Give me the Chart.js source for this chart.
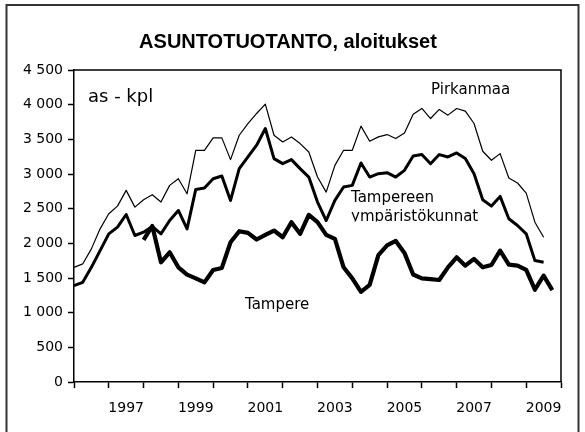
<!DOCTYPE html>
<html>
<head>
<meta charset="utf-8">
<script src="https://cdn.jsdelivr.net/npm/chart.js@4"></script>
<style>
  html, body { margin: 0; padding: 0; background: #fff; }
  #wrap { width: 585px; height: 432px; }
</style>
</head>
<body>
<div id="wrap"><canvas id="chart" width="585" height="432"></canvas></div>
<script>
// quarterly series, 1996 Q1 onwards
const years = [1996, 1997, 1998, 1999, 2000, 2001, 2002, 2003, 2004, 2005, 2006, 2007, 2008, 2009, 2010];
const yTicks = [0, 500, 1000, 1500, 2000, 2500, 3000, 3500, 4000, 4500];

const pirkanmaa = [
    1654, 1703, 1920, 2209, 2426, 2537, 2764, 2522, 2628, 2701,
    2595, 2836, 2932, 2715, 3342, 3342, 3521, 3521, 3207, 3559,
    3728, 3873, 4008, 3559, 3463, 3535, 3439, 3318, 2956, 2739,
    3125, 3342, 3342, 3690, 3473, 3535, 3569, 3511, 3593, 3863,
    3945, 3800, 3931, 3849, 3945, 3907, 3728, 3328, 3198, 3294,
    2942, 2870, 2725, 2305, 2088, null, null
];
const ymparisto = [
    1389, 1437, 1654, 1895, 2137, 2233, 2416, 2113, 2161, 2243,
    2137, 2329, 2474, 2209, 2778, 2797, 2932, 2971, 2619, 3077,
    3246, 3415, 3656, 3222, 3149, 3207, 3077, 2956, 2595, 2329,
    2619, 2812, 2836, 3159, 2956, 3005, 3019, 2956, 3053, 3260,
    3280, 3149, 3280, 3246, 3304, 3222, 3005, 2628, 2537, 2677,
    2354, 2257, 2137, 1751, 1727, null, null
];
const tampere = [
    null, null, null, null, null, null, null, null, 2050, 2250,
    1727, 1871, 1654, 1548, 1495, 1437, 1616, 1645, 2016, 2175,
    2151, 2055, 2122, 2185, 2088, 2305, 2137, 2411, 2305, 2122,
    2064, 1654, 1495, 1300, 1400, 1830, 1970, 2035, 1862, 1550,
    1495, 1485, 1471, 1654, 1799, 1678, 1775, 1654, 1688, 1895,
    1693, 1678, 1616, 1331, 1534, 1326, null
];

const quarters = [];
for (const y of years) {
    for (let q = 1; q <= 4; q++) quarters.push(y + ' Q' + q);
}
quarters.length = pirkanmaa.length;

const font = 'DejaVu Sans';

const decor = {
    id: 'decor',
    beforeDraw(chart) {
        const c = chart.ctx;
        c.save();
        c.fillStyle = '#fff';
        c.fillRect(0, 0, chart.width, chart.height);
        c.strokeStyle = '#333';
        c.lineWidth = 2;
        c.strokeRect(6.5, 5, 572, 460);
        c.restore();
    },
    afterDraw(chart) {
        const c = chart.ctx;
        const a = chart.chartArea;
        c.save();
        // box round the plot area
        c.strokeStyle = '#000';
        c.lineWidth = 1.5;
        c.beginPath();
        c.moveTo(a.left, a.top);
        c.lineTo(a.right, a.top);
        c.lineTo(a.right, a.bottom);
        c.stroke();

        c.fillStyle = '#000';
        c.textAlign = 'center';
        c.textBaseline = 'alphabetic';
        c.font = 'bold 20px "Liberation Sans", Arial';
        c.fillText('ASUNTOTUOTANTO, aloitukset', 288, 48);

        c.textAlign = 'left';
        c.font = '18px "' + font + '"';
        c.fillText('as - kpl', 88, 102);
        c.font = '15px "' + font + '"';
        c.fillText('Pirkanmaa', 431, 94);
        c.fillText('Tampereen', 351, 202);
        c.fillText('Tampere', 245, 309);
        c.save();
        c.beginPath();
        c.rect(340, 205, 160, 16.5);
        c.clip();
        c.fillText('ympäristökunnat', 351, 221);
        c.restore();
        c.restore();
    }
};

const ctx = document.getElementById('chart').getContext('2d');
new Chart(ctx, {
    type: 'line',
    data: {
        labels: quarters,
        datasets: [
            { label: 'Pirkanmaa', data: pirkanmaa, borderColor: '#000', borderWidth: 1.2 },
            { label: 'Tampereen ympäristökunnat', data: ymparisto, borderColor: '#000', borderWidth: 3 },
            { label: 'Tampere', data: tampere, borderColor: '#000', borderWidth: 4.2 }
        ]
    },
    options: {
        responsive: false,
        animation: false,
        layout: { padding: { left: 0, right: 24, top: 70, bottom: 0 } },
        elements: {
            point: { radius: 0 },
            line: { tension: 0, borderJoinStyle: 'round', borderCapStyle: 'butt', fill: false }
        },
        plugins: {
            legend: { display: false },
            title: { display: false },
            tooltip: { enabled: false }
        },
        scales: {
            x: {
                type: 'category',
                offset: false,
                afterFit: (s) => { s.height = 50; },
                grid: {
                    drawOnChartArea: false,
                    drawTicks: true,
                    tickLength: 6,
                    tickWidth: 1.5,
                    tickColor: (c) => (c.index % 4 === 0 ? '#000' : 'rgba(0,0,0,0)')
                },
                border: { color: '#000', width: 1.5 },
                ticks: {
                    autoSkip: false,
                    maxRotation: 0,
                    minRotation: 0,
                    padding: 12,
                    color: '#000',
                    font: { family: font, size: 14 },
                    callback: function (value, index) {
                        return index % 8 === 6 ? this.getLabelForValue(value).slice(0, 4) : '';
                    }
                }
            },
            y: {
                min: 0,
                max: 4500,
                afterFit: (s) => { s.width = 74; },
                afterBuildTicks: (s) => { s.ticks = yTicks.map((v) => ({ value: v })); },
                grid: {
                    drawOnChartArea: false,
                    drawTicks: true,
                    tickLength: 6,
                    tickWidth: 1.5,
                    tickColor: '#000'
                },
                border: { color: '#000', width: 1.5 },
                ticks: {
                    padding: 5,
                    color: '#000',
                    font: { family: font, size: 14 },
                    callback: (v) => String(v).replace(/\B(?=(\d{3})+(?!\d))/g, ' ')
                }
            }
        }
    },
    plugins: [decor]
});
</script>
</body>
</html>
